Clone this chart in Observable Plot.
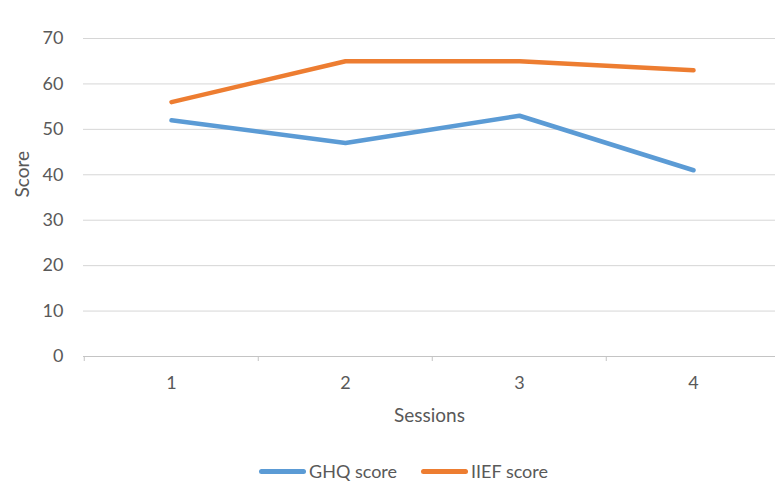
<!DOCTYPE html>
<html>
<head>
<meta charset="utf-8">
<script src="https://cdn.jsdelivr.net/npm/d3@7"></script>
<script src="https://cdn.jsdelivr.net/npm/@observablehq/plot@0.6"></script>
<style>
  html, body { margin: 0; padding: 0; background: #fff; }
  body { width: 775px; height: 485px; overflow: hidden; font-family: Lato, "Open Sans", sans-serif; }
  #legend { display: flex; justify-content: center; align-items: center; gap: 24px; height: 30px; margin-top: 0px; padding-left: 32px; font-size: 18px; color: #595959; }
  .item { display: flex; align-items: center; gap: 3px; }
  .sw { width: 47px; height: 5px; border-radius: 3px; }
</style>
</head>
<body>
<div id="chart"></div>
<div id="legend"></div>
<script>
const sessions = [1, 2, 3, 4];
const ghq = [52, 47, 53, 41];
const iief = [56, 65, 65, 63];
const seriesNames = ["GHQ score", "IIEF score"];
const colors = ["#5B9BD5", "#ED7D31"];
const yTicks = [0, 10, 20, 30, 40, 50, 60, 70];
const xTitle = "Sessions";
const yTitle = "Score";

const rows = [
  ...sessions.map((s, i) => ({session: s, value: ghq[i], series: seriesNames[0]})),
  ...sessions.map((s, i) => ({session: s, value: iief[i], series: seriesNames[1]}))
];

const W = 775, H = 456, ML = 83;
const xRange = [ML, 781];
const band = (xRange[1] - xRange[0]) / sessions.length;

const chart = Plot.plot({
  width: W,
  height: H,
  marginLeft: ML,
  marginRight: 0,
  marginTop: 38,
  marginBottom: 100,
  style: {fontFamily: "Lato, 'Open Sans', sans-serif", fontSize: "18px", color: "#595959", background: "#fff"},
  x: {type: "band", domain: sessions, range: xRange, padding: 0},
  y: {domain: [0, 70], ticks: yTicks},
  color: {domain: seriesNames, range: colors},
  marks: [
    Plot.gridY(yTicks, {stroke: "#d6d6d6", strokeOpacity: 1, strokeWidth: 1}),
    Plot.ruleY([0], {stroke: "#c4c4c4", strokeWidth: 1}),
    Plot.ruleX(sessions, {x: d => d, dx: -band / 2, y1: 0, y2: 0, insetBottom: -5, stroke: "#c4c4c4"}),
    Plot.axisY(yTicks, {tickSize: 0, tickPadding: 20, fontSize: 18, fill: "#595959", label: null}),
    Plot.axisX(sessions, {tickSize: 0, tickPadding: 20, fontSize: 18, fill: "#595959", label: null}),
    Plot.text([yTitle], {text: d => d, frameAnchor: "left", dx: -61, rotate: -90, fontSize: 19, fill: "#595959"}),
    Plot.text([xTitle], {text: d => d, frameAnchor: "bottom", dy: 65, fontSize: 19, fill: "#595959"}),
    Plot.line(rows, {x: "session", y: "value", z: "series", stroke: "series", strokeWidth: 4.5, strokeLinecap: "round", strokeLinejoin: "round"})
  ]
});
document.getElementById("chart").appendChild(chart);

const legend = document.getElementById("legend");
seriesNames.forEach((n, i) => {
  const it = document.createElement("div");
  it.className = "item";
  it.innerHTML = `<span class="sw" style="background:${colors[i]}"></span><span>${n}</span>`;
  legend.appendChild(it);
});
</script>
</body>
</html>
